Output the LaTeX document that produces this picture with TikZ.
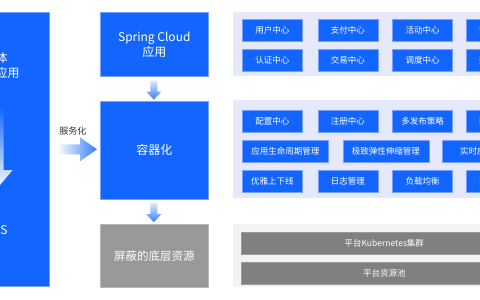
\documentclass[tikz,border=0pt]{standalone}
\usepackage{fontspec}
\newfontfamily\cjk{Noto Sans CJK SC}
\usetikzlibrary{positioning,calc}
\definecolor{appblue}{RGB}{18,102,255}
\definecolor{edgeblue}{RGB}{120,160,255}
\definecolor{panelblue}{RGB}{230,233,251}
\definecolor{panelgray}{RGB}{243,243,243}
\definecolor{basegray}{RGB}{153,153,153}
\definecolor{bargray}{RGB}{128,128,128}
\begin{document}
\begin{tikzpicture}[
  x=1pt, y=-1pt,
  every node/.style={font=\cjk\fontsize{8.5}{10}\selectfont, text=white, align=center, inner sep=0pt},
  bigbox/.style={fill=appblue, draw=edgeblue, line width=0.6pt, minimum width=108pt, font=\cjk\fontsize{12}{15}\selectfont},
  panel/.style={anchor=north west, minimum width=340pt},
  cell/.style={fill=appblue, draw=edgeblue, line width=0.6pt, minimum width=60pt, minimum height=22pt},
  widecell/.style={cell, minimum width=86pt},
  bar/.style={fill=bargray, draw=bargray!80!white, line width=0.6pt, minimum width=286pt, minimum height=22pt}
]
\useasboundingbox (0,0) rectangle (480,300);
\clip (0,0) rectangle (480,300);
\fill[white] (0,0) rectangle (480,300);

% left column
\node[bigbox, anchor=north east, minimum height=274pt] (mono) at (50,12) {};
\node[font=\cjk\fontsize{12}{15}\selectfont] (monotop) at ($(mono.north)+(0,53)$) {单体\\架构应用};
\node[font=\cjk\fontsize{12}{15}\selectfont] (monobot) at ($(mono.north)+(-3,218)$) {EDAS};
\shade[top color=appblue, bottom color=white] ($(mono.north)+(-8,95)$) -- ++(16,0) -- ++(0,63) -- ++(9,0) -- ++(-17,20) -- ++(-17,-20) -- ++(9,0) -- cycle;

% middle column
\node[bigbox, anchor=north west, minimum height=64pt] (sc) at (100,12) {Spring Cloud\\应用};
\node[bigbox, below=24pt of sc, minimum height=98pt] (cont) {容器化};
\node[bigbox, below=25pt of cont, minimum height=63pt, fill=basegray, draw=basegray!70!white, font=\cjk\fontsize{11.5}{14}\selectfont] (base) {屏蔽的底层资源};
\shade[top color=appblue!15, bottom color=appblue!85] ($(sc.south)+(-4,4)$) -- ++(7,0) -- ++(0,11) -- ++(4,0) -- ++(-7.5,8) -- ++(-7.5,-8) -- ++(4,0) -- cycle;
\shade[top color=appblue!15, bottom color=appblue!85] ($(cont.south)+(-4,4)$) -- ++(7,0) -- ++(0,11) -- ++(4,0) -- ++(-7.5,8) -- ++(-7.5,-8) -- ++(4,0) -- cycle;

% services arrow
\node[text=black!80, font=\cjk\fontsize{9}{11}\selectfont] (svclbl) at ($(mono.east)+(23,-18)$) {服务化};
\shade[left color=white, right color=appblue!85] ($(mono.east)+(7,-5)$) -- ++(23,0) -- ++(0,-7) -- ++(17,12) -- ++(-17,12) -- ++(0,-7) -- ++(-23,0) -- cycle;

% panel: services
\node[panel, fill=panelblue, minimum height=64pt] (svc) at (233,12) {};
\node[cell, anchor=north west] (user) at ($(svc.north west)+(9,7)$) {用户中心};
\node[cell, right=15pt of user] (pay) {支付中心};
\node[cell, right=14pt of pay] (act) {活动中心};
\node[cell, right=13pt of act] (mkt) {营销中心};
\node[cell, below=7pt of user] (auth) {认证中心};
\node[cell, below=7pt of pay] (trade) {交易中心};
\node[cell, below=7pt of act] (sched) {调度中心};
\node[cell, below=7pt of mkt] (data) {数据中心};

% panel: container
\node[panel, fill=panelblue, minimum height=98pt] (ctr) at (233,100) {};
\node[cell, anchor=north west] (conf) at ($(ctr.north west)+(9,10)$) {配置中心};
\node[cell, right=15pt of conf] (reg) {注册中心};
\node[cell, right=14pt of reg] (rel) {多发布策略};
\node[cell, right=13pt of rel] (limit) {限流降级};
\node[widecell, anchor=north west] (life) at ($(conf.south west)+(0,7)$) {应用生命周期管理};
\node[widecell, right=14pt of life] (scale) {极致弹性伸缩管理};
\node[widecell, right=13pt of scale] (mon) {实时应用监控};
\node[cell, anchor=north west] (online) at ($(life.south west)+(0,8)$) {优雅上下线};
\node[cell, right=15pt of online] (log) {日志管理};
\node[cell, right=14pt of log] (lb) {负载均衡};
\node[cell, right=13pt of lb] (flow) {流量管理};

% panel: resources
\node[panel, fill=panelgray, minimum height=63pt] (res) at (233,224) {};
\node[bar, anchor=north west] (k8s) at ($(res.north west)+(8,8)$) {平台Kubernetes集群};
\node[bar, below=7pt of k8s] (pool) {平台资源池};
\end{tikzpicture}
\end{document}
